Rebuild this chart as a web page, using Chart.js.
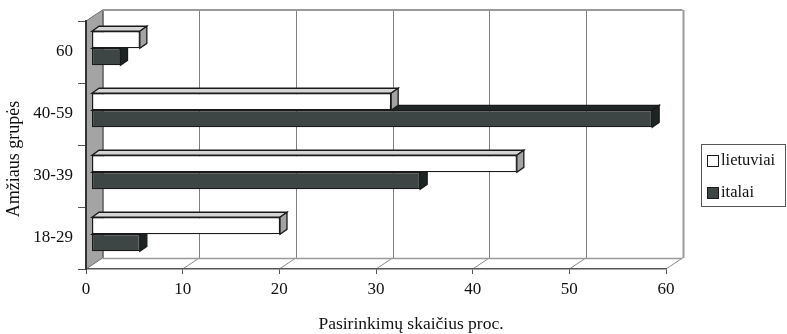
<!DOCTYPE html>
<html>
<head>
<meta charset="utf-8">
<script src="https://cdn.jsdelivr.net/npm/chart.js@4/dist/chart.umd.min.js"></script>
<style>
  html, body { margin: 0; padding: 0; background: #fff; }
  #wrap { width: 787px; height: 334px; }
</style>
</head>
<body>
<div id="wrap"><canvas id="c" width="787" height="334"></canvas></div>
<script>
// Age groups, listed top to bottom
const ageGroups = ['60', '40-59', '30-39', '18-29'];
// Share of choices, percent
const lithuanians = [5, 31, 44, 19.5];
const italians = [3, 58, 34, 5];
const seriesNames = ['lietuviai', 'italai'];
const xTickValues = [0, 10, 20, 30, 40, 50, 60];
const xAxisTitle = 'Pasirinkimų skaičius proc.';
const yAxisTitle = 'Amžiaus grupės';

const FONT = "'Liberation Serif', 'Times New Roman', serif";
const TEXT = '#111';
const WALL = { dx: 16.5, dy: -11 };     // depth of the box
const BAR_SHIFT = { dx: 5.5, dy: -3.7 }; // bars sit a little inside the box
const BAR_DEPTH = { dx: 7, dy: -5 };    // thickness of each bar

const faceColors = [
  { front: '#ffffff', top: '#d4d4d4', side: '#a3a3a3' },
  { front: '#3d4645', top: '#1f2727', side: '#1c2424' }
];

function poly(ctx, pts, fill, stroke, lw) {
  ctx.beginPath();
  ctx.moveTo(pts[0][0], pts[0][1]);
  for (let i = 1; i < pts.length; i++) ctx.lineTo(pts[i][0], pts[i][1]);
  ctx.closePath();
  if (fill) { ctx.fillStyle = fill; ctx.fill(); }
  if (stroke) { ctx.strokeStyle = stroke; ctx.lineWidth = lw || 1; ctx.stroke(); }
}

const box3d = {
  id: 'box3d',
  beforeDraw(chart) {
    const { ctx, chartArea: a, scales: { x } } = chart;
    ctx.save();
    // left wall
    poly(ctx, [[a.left, a.top], [a.left + WALL.dx, a.top + WALL.dy],
               [a.left + WALL.dx, a.bottom + WALL.dy], [a.left, a.bottom]],
         '#a4a4a4', '#6f6f6f', 1);
    // back wall gridlines
    xTickValues.forEach((v, i) => {
      const last = i === xTickValues.length - 1;
      const px = Math.round(x.getPixelForValue(v) + WALL.dx) + 0.5;
      ctx.strokeStyle = last ? '#9a9a9a' : '#808080';
      ctx.lineWidth = last ? 2 : 1;
      ctx.beginPath();
      ctx.moveTo(px, a.top + WALL.dy);
      ctx.lineTo(px, a.bottom + WALL.dy);
      ctx.stroke();
      // floor diagonals
      if (i > 0) {
        ctx.strokeStyle = '#8a8a8a';
        ctx.lineWidth = 1;
        ctx.beginPath();
        ctx.moveTo(x.getPixelForValue(v), a.bottom);
        ctx.lineTo(x.getPixelForValue(v) + WALL.dx, a.bottom + WALL.dy);
        ctx.stroke();
      }
    });
    // top edge of back wall and back edge of floor
    ctx.strokeStyle = '#9a9a9a';
    ctx.lineWidth = 2;
    ctx.beginPath();
    ctx.moveTo(a.left + WALL.dx, a.top + WALL.dy);
    ctx.lineTo(a.right + WALL.dx, a.top + WALL.dy);
    ctx.stroke();
    ctx.lineWidth = 1.5;
    ctx.beginPath();
    ctx.moveTo(a.left + WALL.dx, a.bottom + WALL.dy + 0.5);
    ctx.lineTo(a.right + WALL.dx, a.bottom + WALL.dy + 0.5);
    ctx.stroke();
    ctx.restore();
  },
  beforeDatasetsDraw(chart) {
    chart.ctx.save();
    chart.ctx.translate(BAR_SHIFT.dx, BAR_SHIFT.dy);
  },
  afterDatasetDraw(chart, args) {
    const { ctx } = chart;
    const c = faceColors[args.index];
    args.meta.data.forEach(el => {
      const p = el.getProps(['x', 'y', 'base', 'height'], true);
      const top = p.y - p.height / 2, bottom = p.y + p.height / 2;
      const l = p.base, r = p.x;
      const d = BAR_DEPTH;
      poly(ctx, [[l, top], [l + d.dx, top + d.dy], [r + d.dx, top + d.dy], [r, top]], c.top, '#1a1a1a', 1.3);
      poly(ctx, [[r, top], [r + d.dx, top + d.dy], [r + d.dx, bottom + d.dy], [r, bottom]], c.side, '#1a1a1a', 1.3);
    });
  },
  afterDatasetsDraw(chart) {
    chart.ctx.restore();
  },
  afterDraw(chart) {
    const { ctx } = chart;
    ctx.save();
    // axis titles
    ctx.fillStyle = TEXT;
    ctx.font = '17.5px ' + FONT;
    ctx.textAlign = 'center';
    ctx.textBaseline = 'middle';
    ctx.fillText(xAxisTitle, 411, 324);
    ctx.save();
    ctx.translate(14, 159);
    ctx.rotate(-Math.PI / 2);
    ctx.font = '18px ' + FONT;
    ctx.fillText(yAxisTitle, 0, 0);
    ctx.restore();
    // legend
    ctx.strokeStyle = '#555';
    ctx.lineWidth = 1;
    ctx.strokeRect(701.5, 144.5, 84, 62);
    ctx.font = '16.5px ' + FONT;
    ctx.textAlign = 'left';
    chart.data.datasets.forEach((ds, i) => {
      const y = 161 + i * 32;
      ctx.fillStyle = ds.backgroundColor;
      ctx.fillRect(707.5, y - 5.5, 11, 11);
      ctx.strokeStyle = '#1a1a1a';
      ctx.strokeRect(707.5, y - 5.5, 11, 11);
      ctx.fillStyle = TEXT;
      ctx.fillText(ds.label, 721, y);
    });
    ctx.restore();
  }
};

new Chart(document.getElementById('c'), {
  type: 'bar',
  data: {
    labels: ageGroups,
    datasets: [
      { label: seriesNames[0], data: lithuanians, backgroundColor: faceColors[0].front,
        borderColor: '#1a1a1a', borderWidth: 1.3, borderSkipped: false },
      { label: seriesNames[1], data: italians, backgroundColor: faceColors[1].front,
        borderColor: '#1a1a1a', borderWidth: 1.3, borderSkipped: false }
    ]
  },
  options: {
    indexAxis: 'y',
    responsive: false,
    devicePixelRatio: 1,
    animation: false,
    layout: { padding: { top: 21, right: 121, left: 0, bottom: 0 } },
    datasets: { bar: { categoryPercentage: 0.55, barPercentage: 1 } },
    plugins: { legend: { display: false }, tooltip: { enabled: false } },
    scales: {
      x: {
        min: 0, max: 60,
        afterFit(s) { s.height = 65; },
        afterBuildTicks(s) { s.ticks = xTickValues.map(v => ({ value: v })); },
        grid: { drawOnChartArea: false, drawTicks: true, tickLength: 5, color: '#555' },
        border: { display: true, color: '#555', width: 1.5 },
        ticks: { font: { family: FONT, size: 17 }, color: TEXT, padding: 5, maxRotation: 0 }
      },
      y: {
        afterFit(s) { s.width = 86; },
        grid: { drawOnChartArea: false, drawTicks: true, tickLength: 8, offset: true, color: '#555' },
        border: { display: true, color: '#333', width: 2 },
        ticks: { font: { family: FONT, size: 17 }, color: TEXT, padding: 5 }
      }
    }
  },
  plugins: [box3d]
});
</script>
</body>
</html>
